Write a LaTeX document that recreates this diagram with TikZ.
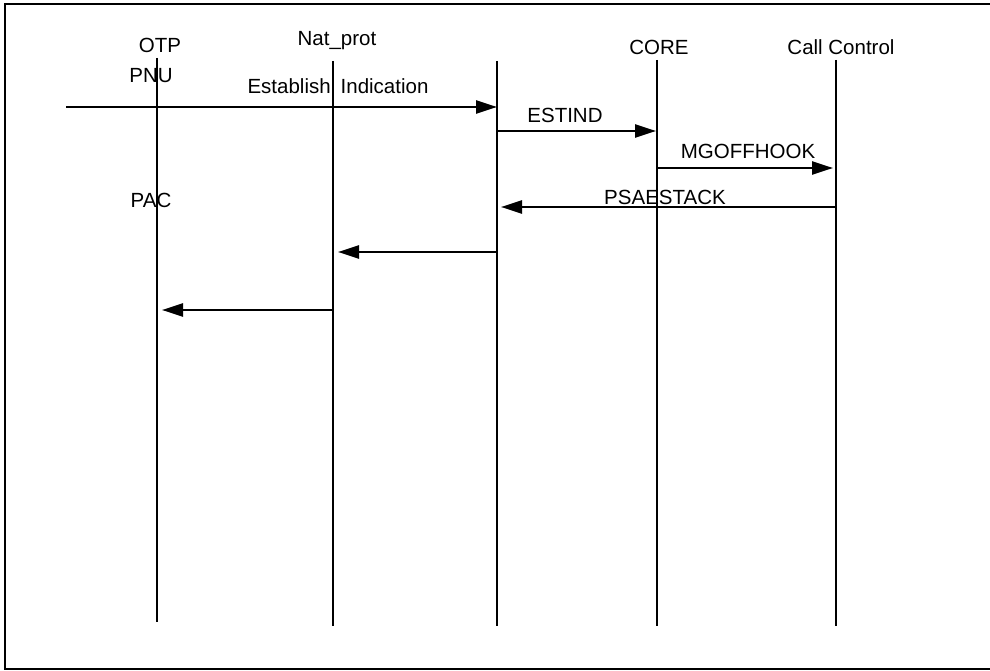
\documentclass[tikz,border=0pt]{standalone}
\usepackage{fontspec}
\setmainfont{Liberation Sans}
\usetikzlibrary{arrows.meta}
\begin{document}
\begin{tikzpicture}[x=1pt,y=-1pt,
  lifeline/.style={line width=2pt},
  msg/.style={line width=2.4pt,-{Triangle[length=21pt,width=13pt]}},
  lbl/.style={inner sep=0pt,font=\fontsize{20.5}{24}\selectfont},
  frame/.style={line width=2.2pt}]
\useasboundingbox (0,0) rectangle (990,671);
\clip (0,0) rectangle (990,671);
\fill[white] (0,0) rectangle (990,671);
% frame (open on the right)
\draw[frame] (1000,4) -- (5,4) -- (5,669) -- (1000,669);
% lifelines
\coordinate (otpT) at (157,58);  \coordinate (otpB) at (157,622);
\coordinate (natT) at (333,61);  \coordinate (natB) at (333,626);
\coordinate (midT) at (497,61);  \coordinate (midB) at (497,626);
\coordinate (corT) at (657,60);  \coordinate (corB) at (657,626);
\coordinate (ccT)  at (836,60);  \coordinate (ccB)  at (836,626);
\draw[lifeline] (otpT) -- (otpB);
\draw[lifeline] (natT) -- (natB);
\draw[lifeline] (midT) -- (midB);
\draw[lifeline] (corT) -- (corB);
\draw[lifeline] (ccT) -- (ccB);
% headings
\node[lbl] (otp) at (160,45) {OTP};
\node[lbl] (nat) at (337,41) {Nat\_prot};
\node[lbl] (core) at (659,47) {CORE};
\node[lbl] (cc) at (841,47) {Call Control};
\node[lbl] (pnu) at (151,76) {PNU};
\node[lbl] (pac) at (151,200) {PAC};
% message anchor points
\coordinate (src) at (66,107);
\coordinate (m1e) at (497,107);
\coordinate (m2s) at (497,131); \coordinate (m2e) at (656,131);
\coordinate (m3s) at (657,168); \coordinate (m3e) at (833,168);
\coordinate (m4s) at (836,207); \coordinate (m4e) at (501,207);
\coordinate (m5s) at (497,252); \coordinate (m5e) at (338,252);
\coordinate (m6s) at (333,310); \coordinate (m6e) at (162,310);
% messages
\draw[msg] (src) -- (m1e);
\draw[msg] (m2s) -- (m2e);
\draw[msg] (m3s) -- (m3e);
\draw[msg] (m4s) -- (m4e);
\draw[msg] (m5s) -- (m5e);
\draw[msg] (m6s) -- (m6e);
% message labels
\node[lbl] (l1) at (338,86) {Establish\hspace{10pt}Indication};
\node[lbl] (l2) at (565,115) {ESTIND};
\node[lbl] (l3) at (748,151) {MGOFFHOOK};
\node[lbl] (l4) at (665,197) {PSAESTACK};
\end{tikzpicture}
\end{document}
